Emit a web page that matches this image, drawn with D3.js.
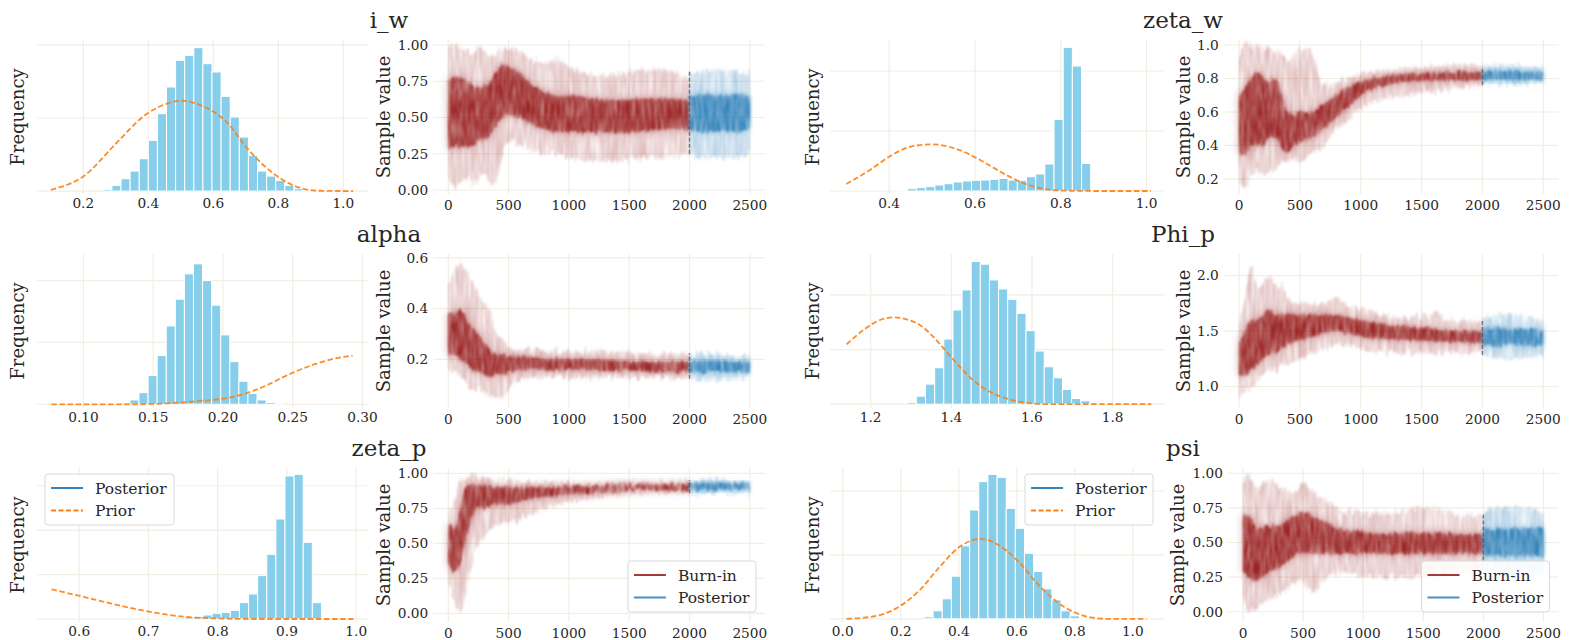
<!DOCTYPE html>
<html>
<head>
<meta charset="utf-8">
<script src="https://cdn.jsdelivr.net/npm/d3@7"></script>
<style>
  body { margin: 0; background: #fff; }
  svg text { font-family: "DejaVu Serif", serif; fill: #262626; }
</style>
</head>
<body>
<svg id="chart" width="1574" height="640"></svg>
<script>
// ---------------- data ----------------
const paramNames = ["i_w", "zeta_w", "alpha", "Phi_p", "zeta_p", "psi"];

// posterior histograms (bin start, bin width, heights in frequency units)
const iwBins = [0.26, 0.028];
const iwCounts = [0.023,0.078,0.169,0.274,0.443,0.694,1.059,1.425,1.790,1.858,1.963,1.744,1.630,1.297,1.014,0.740,0.489,0.274,0.205,0.146,0.078,0.032,0.014];
const zwBins = [0.421, 0.02137];
const zwCounts = [0.011,0.039,0.056,0.072,0.100,0.122,0.150,0.167,0.178,0.183,0.194,0.211,0.183,0.178,0.239,0.283,0.450,1.194,2.394,2.083,0.461,0.011];
const alphaBins = [0.1268, 0.00651];
const alphaCounts = [0.022,0.070,0.189,0.464,0.787,1.267,1.699,2.109,2.271,2.000,1.602,1.122,0.690,0.372,0.178,0.070,0.027,0.011];
const phiBins = [1.2907, 0.02265];
const phiCounts = [0.031,0.147,0.367,0.667,1.193,1.725,2.092,2.612,2.563,2.275,2.110,1.920,1.664,1.346,0.973,0.685,0.483,0.269,0.104,0.061,0.024,0.012];
const zpBins = [0.7129, 0.01316];
const zpCounts = [0.008,0.015,0.030,0.045,0.060,0.090,0.128,0.150,0.195,0.368,0.563,0.976,1.456,2.252,3.221,3.258,1.727,0.368];
const psiBins = [0.280, 0.0315];
const psiCounts = [0.031,0.125,0.313,0.667,1.141,1.703,2.146,2.260,2.214,1.729,1.417,1.026,0.740,0.469,0.297,0.125,0.047,0.016];

// prior densities
const iwPriorX = [0.10,0.20,0.30,0.39,0.46,0.50,0.56,0.64,0.71,0.80,0.87,0.92,1.03];
const iwPriorY = [0.018,0.20,0.648,1.04,1.20,1.237,1.176,0.95,0.557,0.192,0.04,0.005,0];
const zwPriorX = [0.30,0.355,0.40,0.45,0.50,0.557,0.612,0.666,0.72,0.767,0.814,0.9,1.01];
const zwPriorY = [0.117,0.35,0.572,0.739,0.778,0.70,0.517,0.294,0.111,0.028,0.005,0,0];
const alphaPriorX = [0.077,0.136,0.16,0.184,0.208,0.22,0.232,0.244,0.256,0.268,0.28,0.293];
const alphaPriorY = [0,0,0.016,0.054,0.124,0.205,0.313,0.448,0.566,0.664,0.739,0.787];
const phiPriorX = [1.140,1.182,1.223,1.256,1.289,1.322,1.355,1.388,1.421,1.454,1.488,1.537,1.587,1.636,1.896];
const phiPriorY = [1.095,1.358,1.541,1.590,1.554,1.45,1.235,0.96,0.685,0.44,0.257,0.104,0.024,0,0];
const zpPriorX = [0.560,0.601,0.645,0.688,0.727,0.755,0.799,0.847,0.996];
const zpPriorY = [0.668,0.518,0.353,0.203,0.098,0.045,0.015,0,0];
const psiPriorX = [0.0135,0.105,0.186,0.266,0.335,0.404,0.473,0.542,0.611,0.680,0.761,0.841,0.909,1.047];
const psiPriorY = [0,0.036,0.167,0.453,0.818,1.13,1.25,1.141,0.87,0.505,0.193,0.036,0,0];

// chain envelopes over iterations: outer spread and dense core
const burnIters = [0,50,100,150,200,250,300,350,400,450,500,600,700,800,900,1000,1200,1400,1600,1800,2000];
const postIters = [2000,2125,2250,2375,2500];

const iwBurnOuterLo = [0.08,0.03,0.05,0.08,0.05,0.08,0.1,0.05,0.05,0.25,0.35,0.3,0.28,0.25,0.25,0.22,0.2,0.2,0.22,0.22,0.25];
const iwBurnOuterHi = [1.0,1.0,0.98,0.97,0.95,0.98,0.95,0.93,0.95,0.98,0.98,0.95,0.9,0.87,0.9,0.85,0.8,0.8,0.83,0.83,0.75];
const iwBurnInnerLo = [0.28,0.3,0.3,0.3,0.3,0.35,0.35,0.38,0.45,0.5,0.52,0.5,0.45,0.42,0.4,0.4,0.4,0.4,0.4,0.42,0.42];
const iwBurnInnerHi = [0.75,0.78,0.78,0.75,0.72,0.7,0.72,0.75,0.82,0.87,0.85,0.8,0.72,0.68,0.65,0.65,0.63,0.62,0.63,0.63,0.62];
const iwPostOuterLo = [0.25,0.22,0.22,0.22,0.25];
const iwPostOuterHi = [0.8,0.82,0.83,0.82,0.8];
const iwPostInnerLo = [0.42,0.4,0.41,0.4,0.42];
const iwPostInnerHi = [0.65,0.66,0.65,0.66,0.64];

const zwBurnOuterLo = [0.2,0.15,0.2,0.25,0.22,0.25,0.25,0.3,0.3,0.32,0.3,0.35,0.4,0.5,0.55,0.62,0.68,0.7,0.72,0.75,0.76];
const zwBurnOuterHi = [0.9,1.0,1.0,1.0,0.98,0.98,0.95,0.95,0.9,0.95,0.98,0.95,0.75,0.78,0.8,0.83,0.85,0.86,0.87,0.88,0.87];
const zwBurnInnerLo = [0.35,0.35,0.4,0.4,0.4,0.45,0.45,0.38,0.36,0.4,0.42,0.45,0.5,0.57,0.63,0.7,0.76,0.78,0.79,0.79,0.79];
const zwBurnInnerHi = [0.7,0.75,0.8,0.85,0.8,0.78,0.8,0.7,0.6,0.58,0.6,0.6,0.65,0.7,0.75,0.78,0.81,0.83,0.83,0.84,0.84];
const zwPostOuterLo = [0.77,0.76,0.76,0.77,0.77];
const zwPostOuterHi = [0.87,0.88,0.88,0.87,0.87];
const zwPostInnerLo = [0.79,0.795,0.79,0.795,0.79];
const zwPostInnerHi = [0.84,0.845,0.845,0.84,0.84];

const alphaBurnOuterLo = [0.15,0.15,0.13,0.1,0.08,0.08,0.07,0.05,0.05,0.05,0.08,0.12,0.13,0.13,0.13,0.13,0.13,0.13,0.13,0.13,0.13];
const alphaBurnOuterHi = [0.5,0.55,0.58,0.55,0.5,0.45,0.42,0.38,0.3,0.28,0.25,0.24,0.24,0.23,0.23,0.23,0.23,0.23,0.22,0.22,0.22];
const alphaBurnInnerLo = [0.22,0.22,0.2,0.18,0.16,0.15,0.14,0.13,0.14,0.14,0.15,0.16,0.16,0.16,0.16,0.16,0.16,0.155,0.155,0.15,0.15];
const alphaBurnInnerHi = [0.38,0.38,0.4,0.36,0.32,0.3,0.26,0.23,0.22,0.22,0.21,0.21,0.21,0.2,0.2,0.2,0.2,0.195,0.19,0.19,0.19];
const alphaPostOuterLo = [0.13,0.12,0.12,0.12,0.13];
const alphaPostOuterHi = [0.21,0.22,0.22,0.21,0.21];
const alphaPostInnerLo = [0.15,0.15,0.15,0.15,0.15];
const alphaPostInnerHi = [0.19,0.195,0.195,0.19,0.19];

const phiBurnOuterLo = [0.9,0.95,1.0,1.05,1.1,1.15,1.15,1.2,1.2,1.22,1.25,1.3,1.35,1.38,1.37,1.35,1.3,1.3,1.3,1.3,1.3];
const phiBurnOuterHi = [1.6,1.8,2.1,1.9,1.95,2.0,1.9,1.9,1.8,1.75,1.75,1.75,1.75,1.8,1.72,1.7,1.65,1.62,1.65,1.6,1.6];
const phiBurnInnerLo = [1.1,1.1,1.15,1.2,1.25,1.3,1.3,1.35,1.38,1.4,1.42,1.45,1.48,1.5,1.48,1.45,1.43,1.42,1.41,1.4,1.39];
const phiBurnInnerHi = [1.4,1.5,1.6,1.6,1.65,1.7,1.65,1.65,1.65,1.65,1.65,1.65,1.65,1.65,1.62,1.6,1.56,1.54,1.52,1.5,1.5];
const phiPostOuterLo = [1.28,1.25,1.25,1.26,1.28];
const phiPostOuterHi = [1.6,1.65,1.65,1.63,1.6];
const phiPostInnerLo = [1.38,1.37,1.38,1.37,1.38];
const phiPostInnerHi = [1.52,1.53,1.52,1.52,1.51];

const zpBurnOuterLo = [0.2,0.08,0.0,0.15,0.35,0.5,0.55,0.6,0.62,0.64,0.65,0.68,0.7,0.75,0.78,0.8,0.82,0.84,0.85,0.86,0.86];
const zpBurnOuterHi = [0.75,0.8,0.95,0.97,1.0,0.97,0.96,0.95,0.95,0.95,0.95,0.94,0.94,0.93,0.93,0.93,0.93,0.94,0.94,0.94,0.94];
const zpBurnInnerLo = [0.35,0.3,0.35,0.55,0.7,0.75,0.75,0.77,0.78,0.78,0.78,0.8,0.82,0.83,0.84,0.85,0.86,0.87,0.88,0.88,0.88];
const zpBurnInnerHi = [0.65,0.6,0.75,0.9,0.92,0.92,0.92,0.9,0.9,0.9,0.9,0.9,0.9,0.9,0.9,0.91,0.91,0.92,0.92,0.92,0.93];
const zpPostOuterLo = [0.86,0.85,0.85,0.86,0.86];
const zpPostOuterHi = [0.94,0.95,0.95,0.94,0.94];
const zpPostInnerLo = [0.88,0.88,0.88,0.88,0.88];
const zpPostInnerHi = [0.93,0.93,0.93,0.93,0.93];

const psiBurnOuterLo = [0.1,0.0,0.03,0.05,0.08,0.1,0.12,0.15,0.2,0.22,0.2,0.15,0.25,0.28,0.28,0.25,0.25,0.25,0.25,0.3,0.3];
const psiBurnOuterHi = [0.95,1.0,0.9,0.9,0.95,0.95,0.9,0.88,0.85,0.88,0.92,0.85,0.8,0.75,0.72,0.72,0.7,0.75,0.75,0.7,0.7];
const psiBurnInnerLo = [0.3,0.25,0.22,0.25,0.28,0.3,0.32,0.35,0.38,0.42,0.42,0.42,0.42,0.42,0.42,0.42,0.42,0.42,0.42,0.42,0.42];
const psiBurnInnerHi = [0.7,0.7,0.62,0.6,0.62,0.62,0.62,0.65,0.68,0.7,0.72,0.68,0.64,0.6,0.58,0.58,0.56,0.57,0.57,0.56,0.56];
const psiPostOuterLo = [0.3,0.25,0.25,0.26,0.28];
const psiPostOuterHi = [0.72,0.76,0.76,0.74,0.72];
const psiPostInnerLo = [0.4,0.4,0.4,0.4,0.4];
const psiPostInnerHi = [0.6,0.6,0.6,0.6,0.6];

// range of chain values at the burn-in boundary
const iwSplit = [0.25, 0.82];
const zwSplit = [0.76, 0.855];
const alphaSplit = [0.123, 0.224];
const phiSplit = [1.285, 1.6];
const zpSplit = [0.86, 0.95];
const psiSplit = [0.37, 0.71];

// tick labels
const iwHistTicks = [0.2, 0.4, 0.6, 0.8, 1.0];
const zwHistTicks = [0.4, 0.6, 0.8, 1.0];
const alphaHistTicks = [0.10, 0.15, 0.20, 0.25, 0.30];
const phiHistTicks = [1.2, 1.4, 1.6, 1.8];
const zpHistTicks = [0.6, 0.7, 0.8, 0.9, 1.0];
const psiHistTicks = [0.0, 0.2, 0.4, 0.6, 0.8, 1.0];
const iwTraceTicks = [0, 0.25, 0.5, 0.75, 1.0];
const zwTraceTicks = [0.2, 0.4, 0.6, 0.8, 1.0];
const alphaTraceTicks = [0.2, 0.4, 0.6];
const phiTraceTicks = [1.0, 1.5, 2.0];
const zpTraceTicks = [0, 0.25, 0.5, 0.75, 1.0];
const psiTraceTicks = [0, 0.25, 0.5, 0.75, 1.0];
const iterTicks = [0, 500, 1000, 1500, 2000, 2500];
const burnIn = 2000;

// ---------------- panel table ----------------
const env = (lo2, hi2, lo1, hi1) => ({lo2, hi2, lo1, hi1});
const panels = [
  {name: "i_w", row: 0, col: 0, bins: iwBins, counts: iwCounts, px: iwPriorX, py: iwPriorY,
   hDom: [0.0575, 1.076], hY: [-0.04, 2.068], hTicks: iwHistTicks, hFmt: ".1f", hGrid: [0, 1, 2],
   tDom: [-0.0276, 1.0345], tTicks: iwTraceTicks, tFmt: ".2f",
   burn: env(iwBurnOuterLo, iwBurnOuterHi, iwBurnInnerLo, iwBurnInnerHi),
   post: env(iwPostOuterLo, iwPostOuterHi, iwPostInnerLo, iwPostInnerHi), split: iwSplit},
  {name: "zeta_w", row: 0, col: 1, bins: zwBins, counts: zwCounts, px: zwPriorX, py: zwPriorY,
   hDom: [0.262, 1.043], hY: [-0.05, 2.517], hTicks: zwHistTicks, hFmt: ".1f", hGrid: [0, 1, 2],
   tDom: [0.11, 1.03], tTicks: zwTraceTicks, tFmt: ".1f",
   burn: env(zwBurnOuterLo, zwBurnOuterHi, zwBurnInnerLo, zwBurnInnerHi),
   post: env(zwPostOuterLo, zwPostOuterHi, zwPostInnerLo, zwPostInnerHi), split: zwSplit},
  {name: "alpha", row: 1, col: 0, bins: alphaBins, counts: alphaCounts, px: alphaPriorX, py: alphaPriorY,
   hDom: [0.0667, 0.304], hY: [-0.06, 2.43], hTicks: alphaHistTicks, hFmt: ".2f", hGrid: [0, 1, 2],
   tDom: [0.008, 0.615], tTicks: alphaTraceTicks, tFmt: ".1f",
   burn: env(alphaBurnOuterLo, alphaBurnOuterHi, alphaBurnInnerLo, alphaBurnInnerHi),
   post: env(alphaPostOuterLo, alphaPostOuterHi, alphaPostInnerLo, alphaPostInnerHi), split: alphaSplit},
  {name: "Phi_p", row: 1, col: 1, bins: phiBins, counts: phiCounts, px: phiPriorX, py: phiPriorY,
   hDom: [1.099, 1.93], hY: [-0.07, 2.75], hTicks: phiHistTicks, hFmt: ".1f", hGrid: [0, 1, 2],
   tDom: [0.808, 2.195], tTicks: phiTraceTicks, tFmt: ".1f",
   burn: env(phiBurnOuterLo, phiBurnOuterHi, phiBurnInnerLo, phiBurnInnerHi),
   post: env(phiPostOuterLo, phiPostOuterHi, phiPostInnerLo, phiPostInnerHi), split: phiSplit},
  {name: "zeta_p", row: 2, col: 0, bins: zpBins, counts: zpCounts, px: zpPriorX, py: zpPriorY,
   hDom: [0.539, 1.017], hY: [-0.068, 3.4], hTicks: zpHistTicks, hFmt: ".1f", hGrid: [0, 1, 2, 3],
   tDom: [-0.062, 1.038], tTicks: zpTraceTicks, tFmt: ".2f",
   burn: env(zpBurnOuterLo, zpBurnOuterHi, zpBurnInnerLo, zpBurnInnerHi),
   post: env(zpPostOuterLo, zpPostOuterHi, zpPostInnerLo, zpPostInnerHi), split: zpSplit,
   histLegend: "left", traceLegend: true},
  {name: "psi", row: 2, col: 1, bins: psiBins, counts: psiCounts, px: psiPriorX, py: psiPriorY,
   hDom: [-0.044, 1.111], hY: [-0.05, 2.36], hTicks: psiHistTicks, hFmt: ".1f", hGrid: [0, 1, 2],
   tDom: [-0.074, 1.038], tTicks: psiTraceTicks, tFmt: ".2f",
   burn: env(psiBurnOuterLo, psiBurnOuterHi, psiBurnInnerLo, psiBurnInnerHi),
   post: env(psiPostOuterLo, psiPostOuterHi, psiPostInnerLo, psiPostInnerHi), split: psiSplit,
   histLegend: "right", traceLegend: true, traceRange: [1228, 1558.5], sampX: 1184}
];

// ---------------- layout ----------------
const rowTop = [40, 254, 468];
const rowH = 154;
const cols = [
  {hist: [37, 368], trace: [433.2, 764.9], title: 389, freqX: 24, sampX: 390},
  {hist: [830, 1165], trace: [1223.8, 1558.5], title: 1183, freqX: 819, sampX: 1190}
];
const GRID = "#f1eee3";
const BURN = "#8b0000";
const POST = "#1f77b4";
const PRIOR = "#ff7f0e";
const BAR = "#87ceeb";

const svg = d3.select("#chart");
const defs = svg.append("defs");

// jagged, streaky rendering of many overlapping chains
function chainFilter(id, freq, shift, blur, seed) {
  const f = defs.append("filter").attr("id", id)
    .attr("x", "-3%").attr("y", "-40%").attr("width", "106%").attr("height", "180%");
  f.append("feTurbulence").attr("type", "fractalNoise").attr("baseFrequency", freq)
    .attr("numOctaves", 2).attr("seed", seed).attr("result", "noise");
  f.append("feColorMatrix").attr("in", "noise").attr("type", "matrix")
    .attr("values", "0 0 0 0 0.5  0 1 0 0 0  0 0 0 0 0  0 0 0 0 1").attr("result", "map");
  f.append("feDisplacementMap").attr("in", "SourceGraphic").attr("in2", "map")
    .attr("scale", shift).attr("xChannelSelector", "R").attr("yChannelSelector", "G").attr("result", "moved");
  f.append("feColorMatrix").attr("in", "noise").attr("type", "matrix")
    .attr("values", "0 0 0 0 0  0 0 0 0 0  0 0 0 0 0  0 0 1.8 0 -0.25").attr("result", "grain");
  f.append("feComposite").attr("in", "moved").attr("in2", "grain").attr("operator", "in").attr("result", "tex");
  f.append("feGaussianBlur").attr("in", "tex").attr("stdDeviation", blur);
}
chainFilter("outerTex", "0.6 0.03", 16, 0.9, 4);
chainFilter("innerTex", "0.5 0.05", 9, 1.0, 9);
defs.append("filter").attr("id", "glow").attr("x", "-5%").attr("y", "-40%").attr("width", "110%").attr("height", "180%")
  .append("feGaussianBlur").attr("stdDeviation", 4);

function legend(g, x, y, w, items) {
  const lg = g.append("g").attr("transform", `translate(${x},${y})`);
  lg.append("rect").attr("width", w).attr("height", 51).attr("rx", 3)
    .attr("fill", "#fff").attr("fill-opacity", 0.85).attr("stroke", "#d9d9d9").attr("stroke-width", 1);
  items.forEach((it, i) => {
    const yy = 14 + i * 22.5;
    lg.append("line").attr("x1", 6).attr("x2", 38).attr("y1", yy).attr("y2", yy)
      .attr("stroke", it.color).attr("stroke-width", 1.8)
      .attr("stroke-dasharray", it.dash || null);
    lg.append("text").attr("x", 50).attr("y", yy + 5.5).attr("font-size", 15.5).text(it.label);
  });
}

panels.forEach(p => {
  const c = cols[p.col];
  const top = rowTop[p.row], bottom = top + rowH;
  const g = svg.append("g");
  const traceRange = p.traceRange || c.trace;
  const sampX = p.sampX || c.sampX;

  // title
  g.append("text").attr("x", c.title).attr("y", top - 12).attr("text-anchor", "middle")
    .attr("font-size", 23).text(p.name);

  // ---- histogram with prior ----
  const hx = d3.scaleLinear().domain(p.hDom).range(c.hist);
  const hy = d3.scaleLinear().domain(p.hY).range([bottom, top]);
  const hg = g.append("g");
  hg.selectAll(".vg").data(p.hTicks).join("line")
    .attr("x1", d => hx(d)).attr("x2", d => hx(d)).attr("y1", top).attr("y2", bottom)
    .attr("stroke", GRID).attr("stroke-width", 1.2);
  hg.selectAll(".hg").data(p.hGrid).join("line")
    .attr("x1", c.hist[0]).attr("x2", c.hist[1]).attr("y1", d => hy(d)).attr("y2", d => hy(d))
    .attr("stroke", GRID).attr("stroke-width", 1.2);
  const [b0, bw] = p.bins;
  hg.selectAll(".bar").data(p.counts).join("rect")
    .attr("x", (d, i) => hx(b0 + i * bw))
    .attr("width", (d, i) => hx(b0 + (i + 1) * bw) - hx(b0 + i * bw))
    .attr("y", d => hy(d)).attr("height", d => hy(0) - hy(d))
    .attr("fill", BAR).attr("stroke", "#fff").attr("stroke-width", 1);
  const priorLine = d3.line().x(d => hx(d[0])).y(d => hy(d[1])).curve(d3.curveMonotoneX);
  hg.append("path").datum(d3.zip(p.px, p.py)).attr("d", priorLine)
    .attr("fill", "none").attr("stroke", PRIOR).attr("stroke-opacity", 0.9)
    .attr("stroke-width", 1.8).attr("stroke-dasharray", "5.5,2.6");
  hg.selectAll(".xt").data(p.hTicks).join("text")
    .attr("x", d => hx(d)).attr("y", bottom + 14).attr("text-anchor", "middle")
    .attr("font-size", 13.7).text(d => d3.format(p.hFmt)(d));
  hg.append("text").attr("transform", `translate(${c.freqX},${(top + bottom) / 2}) rotate(-90)`)
    .attr("text-anchor", "middle").attr("font-size", 18).text("Frequency");

  // ---- trace ----
  const tx = d3.scaleLinear().domain([-125, 2625]).range(traceRange);
  const ty = d3.scaleLinear().domain(p.tDom).range([bottom, top]);
  const tg = g.append("g");
  tg.selectAll(".vg").data(iterTicks).join("line")
    .attr("x1", d => tx(d)).attr("x2", d => tx(d)).attr("y1", top).attr("y2", bottom)
    .attr("stroke", GRID).attr("stroke-width", 1.2);
  tg.selectAll(".hg").data(p.tTicks).join("line")
    .attr("x1", traceRange[0]).attr("x2", traceRange[1]).attr("y1", d => ty(d)).attr("y2", d => ty(d))
    .attr("stroke", GRID).attr("stroke-width", 1.2);

  const band = (iters, lo, hi) => d3.area()
    .x((d, i) => tx(iters[i])).y0((d, i) => ty(lo[i])).y1((d, i) => ty(hi[i]))
    .curve(d3.curveMonotoneX)(iters);

  [[burnIters, p.burn, BURN, 0.26, 0.35, 0.75], [postIters, p.post, POST, 0.32, 0.35, 0.85]]
    .forEach(([it, e, col, oa, ga, ia]) => {
      tg.append("path").attr("d", band(it, e.lo2, e.hi2)).attr("fill", col).attr("fill-opacity", oa)
        .attr("filter", "url(#outerTex)");
      tg.append("path").attr("d", band(it, e.lo1, e.hi1)).attr("fill", col).attr("fill-opacity", ga)
        .attr("filter", "url(#glow)");
      tg.append("path").attr("d", band(it, e.lo1, e.hi1)).attr("fill", col).attr("fill-opacity", ia)
        .attr("filter", "url(#innerTex)");
    });
  tg.append("line").attr("x1", tx(burnIn)).attr("x2", tx(burnIn))
    .attr("y1", ty(p.split[0])).attr("y2", ty(p.split[1]))
    .attr("stroke", "#555").attr("stroke-opacity", 0.75).attr("stroke-width", 1.5)
    .attr("stroke-dasharray", "4,2");

  tg.selectAll(".xt").data(iterTicks).join("text")
    .attr("x", d => tx(d)).attr("y", bottom + 16).attr("text-anchor", "middle")
    .attr("font-size", 13.7).text(d => d);
  tg.selectAll(".yt").data(p.tTicks).join("text")
    .attr("x", traceRange[0] - 5).attr("y", d => ty(d)).attr("dy", "0.35em").attr("text-anchor", "end")
    .attr("font-size", 13.7).text(d => d3.format(p.tFmt)(d));
  tg.append("text").attr("transform", `translate(${sampX},${(top + bottom) / 2}) rotate(-90)`)
    .attr("text-anchor", "middle").attr("font-size", 18).text("Sample value");

  // legends
  const histItems = [{label: "Posterior", color: POST}, {label: "Prior", color: PRIOR, dash: "5,2.5"}];
  if (p.histLegend === "left") legend(g, c.hist[0] + 8, top + 6, 129, histItems);
  if (p.histLegend === "right") legend(g, c.hist[1] - 140, top + 6, 128, histItems);
  if (p.traceLegend) {
    legend(g, traceRange[1] - 137, bottom - 61, 128,
      [{label: "Burn-in", color: "#a33a3a"}, {label: "Posterior", color: "#4a8fc6"}]);
  }
});
</script>
</body>
</html>
